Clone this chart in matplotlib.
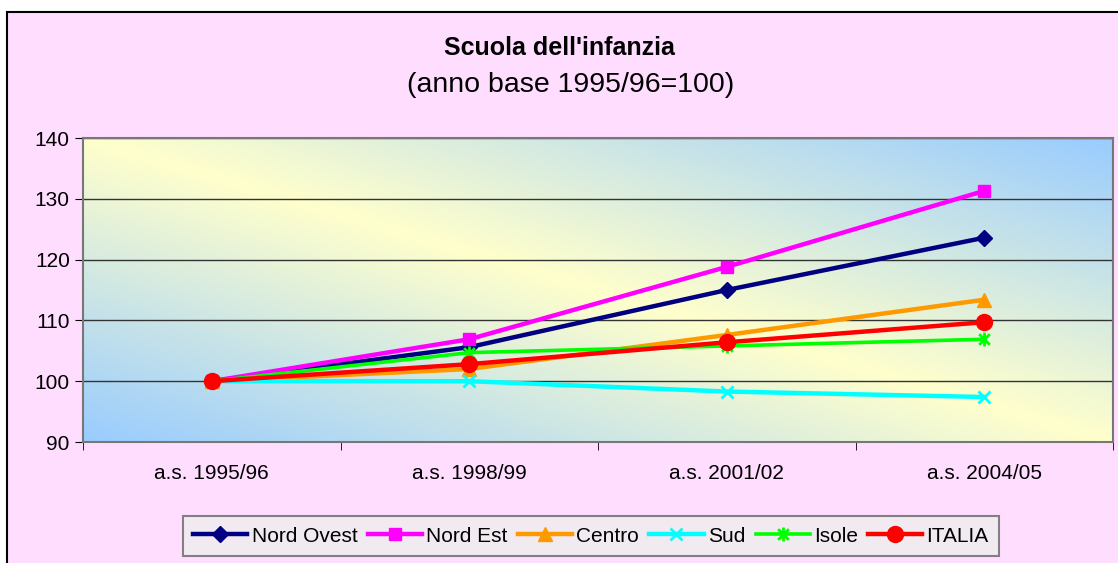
import numpy as np
import matplotlib.pyplot as plt
from matplotlib.colors import LinearSegmentedColormap
from matplotlib.patches import Rectangle
from matplotlib.path import Path

plt.rcParams['font.family'] = ['Liberation Sans', 'DejaVu Sans']

anni = ['a.s. 1995/96', 'a.s. 1998/99', 'a.s. 2001/02', 'a.s. 2004/05']
nord_ovest = [100, 105.6, 115.0, 123.6]
nord_est = [100, 106.9, 118.8, 131.3]
centro = [100, 102.0, 107.6, 113.4]
sud = [100, 100.0, 98.3, 97.4]
isole = [100, 104.7, 105.8, 106.9]
italia = [100, 102.8, 106.4, 109.7]

# excel-like star: x plus a vertical stroke
star = Path([(-1, -1), (1, 1), (-1, 1), (1, -1), (0, -1.3), (0, 1.3)],
            [Path.MOVETO, Path.LINETO, Path.MOVETO, Path.LINETO, Path.MOVETO, Path.LINETO])

series = [
    ('Nord Ovest', nord_ovest, '#000080', 'D', 8, 3.2),
    ('Nord Est', nord_est, '#FF00FF', 's', 8, 3.2),
    ('Centro', centro, '#FF9900', '^', 10, 3.2),
    ('Sud', sud, '#00FFFF', 'x', 9, 3.2),
    ('Isole', isole, '#00FF00', star, 10, 2.6),
    ('ITALIA', italia, '#FF0000', 'o', 11.5, 3.2),
]

fig = plt.figure(figsize=(11.18, 5.63), dpi=100)
fig.patch.set_facecolor('white')
# pink chart area with black frame (left/top visible)
fig.patches.append(Rectangle((7 / 1118, -0.1), 1.2, 1 - 12 / 563 + 0.1, transform=fig.transFigure,
                             facecolor='#FFDDFF', edgecolor='black', linewidth=1.5, zorder=-10))

ax = fig.add_axes([83 / 1118, 1 - 442 / 563, 1030 / 1118, 304 / 563])

# gradient background: yellow along the diagonal, blue in the corners
n = 200
u, v = np.meshgrid(np.linspace(0, 1, n), np.linspace(0, 1, n))
t = np.abs(u - v)
cmap = LinearSegmentedColormap.from_list('bg', ['#FFFFCC', '#99CCFF'])
ax.imshow(t, cmap=cmap, extent=[0, 1, 0, 1], origin='upper', transform=ax.transAxes,
          aspect='auto', zorder=0, interpolation='bilinear')

x = np.arange(len(anni))
for name, vals, col, mk, ms, lw in series:
    thin = mk is star or mk == 'x'
    ax.plot(x, vals, color=col, marker=mk, markersize=ms, linewidth=lw, label=name,
            markeredgecolor=col, markeredgewidth=2 if thin else 1, zorder=3)

ax.set_xlim(-0.5, 3.5)
ax.set_ylim(90, 140)
ax.set_yticks(range(90, 141, 10))
ax.yaxis.grid(True, color='#333333', linewidth=1)
ax.set_axisbelow(True)
ax.set_xticks(x)
ax.set_xticklabels(anni, fontsize=15)
ax.set_xticks(np.arange(-0.5, 4, 1), minor=True)
ax.tick_params(axis='x', which='major', length=0, pad=16)
ax.tick_params(axis='x', which='minor', length=6, color='black', direction='out')
ax.tick_params(axis='y', labelsize=15, length=6, direction='out')
for s in ax.spines.values():
    s.set_color('#777777')
    s.set_linewidth(1.5)

fig.text(559 / 1118, 1 - 48 / 563, "Scuola dell'infanzia", ha='center', va='center',
         fontsize=18, fontweight='bold')
fig.text(571 / 1118, 1 - 85 / 563, '(anno base 1995/96=100)', ha='center', va='center',
         fontsize=20.5)

leg = fig.legend(loc='center', bbox_to_anchor=(591 / 1118, 1 - 536 / 563), ncol=6,
                 fontsize=15, frameon=True, fancybox=False, handlelength=2.6,
                 handletextpad=0.2, columnspacing=0.5, borderpad=0.5)
leg.get_frame().set_facecolor('#EEEEEE')
leg.get_frame().set_edgecolor('#666666')
leg.get_frame().set_linewidth(1.5)

fig.savefig('out.png', dpi=100)
